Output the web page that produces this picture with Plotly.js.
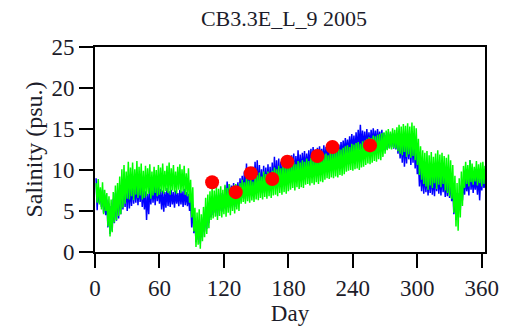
<!DOCTYPE html>
<html>
<head>
<meta charset="utf-8">
<script src="https://cdn.plot.ly/plotly-3.0.1.min.js"></script>
<style>html,body{margin:0;padding:0;background:#fff;}#chart{width:510px;height:330px;}</style>
</head>
<body>
<div id="chart"></div>
<script>
const blueSalinity = [
9.0,5.1,7.8,6.0,7.2,5.5,7.6,4.8,7.0,4.5,
6.4,3.0,5.9,2.2,5.6,2.6,6.5,3.5,7.2,3.8,
7.5,4.1,8.0,4.6,8.6,5.2,8.8,5.5,8.2,5.0,
8.4,5.3,7.9,5.6,8.5,5.9,8.1,6.0,8.6,5.7,
8.2,6.1,8.0,5.5,7.8,5.2,7.4,3.9,7.1,4.6,
7.9,5.8,8.3,6.0,8.1,5.7,8.4,6.2,8.0,5.9,
7.7,5.2,7.5,4.9,7.3,5.4,7.8,5.6,7.4,5.5,
7.6,5.8,7.3,5.4,7.5,5.9,7.2,5.6,7.6,5.8,
7.4,5.5,7.7,5.7,7.3,5.6,7.1,5.0,6.4,3.0,
5.8,2.3,4.1,1.2,3.6,1.5,3.9,1.0,3.4,1.8,
4.2,2.5,5.3,2.8,6.0,3.5,6.5,4.2,6.8,4.5,
6.6,4.8,7.0,4.4,6.9,5.0,7.2,4.9,7.0,5.3,
8.0,5.2,8.6,5.6,8.3,5.4,8.1,5.8,8.4,5.5,
8.2,6.0,8.5,6.2,9.0,6.4,9.3,6.6,9.8,6.5,
10.8,6.9,10.2,7.0,9.6,6.8,10.4,7.1,11.0,7.2,
11.2,7.3,10.6,7.5,10.1,7.2,10.5,7.6,10.3,7.4,
10.7,7.7,10.4,7.5,10.9,7.9,11.6,8.1,11.2,8.0,
11.4,8.2,11.0,8.3,11.3,8.5,11.6,8.4,11.1,8.6,
11.5,9.0,11.8,9.2,12.0,9.1,11.7,9.4,12.4,9.3,
11.9,9.6,12.1,9.8,12.3,9.7,12.0,10.0,12.4,10.1,
12.6,10.0,12.8,10.3,12.5,10.2,12.7,10.5,12.9,10.4,
12.6,10.7,13.0,10.8,12.8,10.9,13.1,11.0,12.9,11.1,
13.2,11.0,13.0,11.3,13.3,11.2,13.1,11.4,13.4,11.5,
13.6,11.8,13.9,12.0,13.7,11.9,14.1,12.1,14.4,12.2,
14.2,12.0,14.6,12.3,14.9,12.4,15.5,12.5,14.8,12.6,
14.7,12.5,15.0,12.8,14.6,12.7,14.9,12.9,15.1,13.0,
14.8,12.9,15.0,13.1,14.7,12.8,14.9,12.6,14.5,12.4,
14.3,12.5,14.6,12.7,14.4,12.8,14.5,12.6,14.2,12.5,
14.0,12.0,14.3,11.4,13.8,10.9,14.1,10.4,13.6,10.8,
14.2,11.3,13.9,10.6,14.4,10.9,13.7,10.2,12.8,9.5,
11.2,8.0,10.6,7.4,10.1,7.1,9.8,7.3,9.5,6.9,
9.2,7.2,9.6,7.0,9.3,6.8,9.7,7.4,9.9,7.1,
9.4,6.9,9.8,7.3,9.1,6.7,9.0,6.8,9.2,6.6,
8.8,6.2,8.0,4.6,7.0,3.9,6.4,4.3,7.2,5.1,
8.1,6.3,8.6,7.0,9.2,7.4,9.0,6.9,11.2,7.6,
9.4,7.2,9.1,7.6,9.3,7.0,9.6,6.3,9.0,7.5,
9.2,7.8,9.5,6.6,9.3
];
const greenSalinity = [
8.4,6.0,8.9,5.8,7.9,5.2,8.5,4.6,7.6,5.0,
7.2,3.1,6.8,1.9,6.4,2.4,7.3,3.6,8.1,3.9,
8.4,4.4,9.2,4.6,10.1,5.4,10.6,5.9,9.8,6.5,
11.0,6.4,10.3,6.8,10.9,6.3,10.1,7.0,11.1,6.6,
10.4,6.9,10.8,6.4,9.9,6.6,10.5,6.8,10.2,7.1,
10.7,6.5,9.8,6.9,10.4,7.2,10.0,6.8,10.6,7.0,
10.3,7.3,10.8,7.1,9.9,7.4,10.5,7.2,10.9,7.0,
10.2,7.5,10.6,7.3,9.8,7.1,10.4,7.6,10.7,7.2,
10.1,7.4,10.5,7.0,9.6,6.8,10.2,6.0,8.8,4.2,
7.9,2.5,5.4,0.6,4.8,0.9,5.2,0.4,4.6,1.3,
5.5,1.8,6.6,2.2,7.0,2.9,7.4,3.9,7.8,4.1,
7.5,4.3,7.9,3.9,7.7,4.4,8.0,4.2,7.6,4.6,
8.2,4.3,7.8,4.8,8.3,4.5,7.9,5.0,8.1,4.7,
8.3,5.2,7.9,5.0,8.4,5.9,8.8,6.1,8.5,5.9,
9.0,6.2,8.7,6.0,8.9,6.3,8.6,6.1,9.1,6.4,
9.4,6.3,9.7,6.6,9.2,6.4,9.8,6.7,9.5,6.5,
9.8,6.8,9.3,6.6,9.9,6.9,10.3,7.0,10.1,6.8,
10.5,7.2,10.2,7.0,10.6,7.3,10.4,7.1,10.7,7.4,
10.8,7.6,10.5,7.8,11.0,7.5,10.7,7.9,11.1,7.7,
10.9,7.9,11.2,7.8,11.0,8.2,11.4,8.3,11.1,8.1,
11.5,8.4,11.3,8.2,11.7,8.5,11.4,8.3,11.8,8.6,
11.6,8.5,11.9,8.8,12.0,9.0,11.8,8.9,12.2,9.1,
12.1,9.0,12.4,9.2,12.3,9.1,12.6,9.4,12.5,9.3,
12.7,9.5,12.9,9.8,13.0,9.9,12.8,10.0,13.2,9.9,
13.1,10.1,13.3,10.2,13.4,10.0,13.2,10.3,13.5,10.4,
13.6,10.6,13.8,10.8,14.0,10.7,13.9,10.9,14.2,11.1,
14.1,11.0,14.3,11.3,14.4,11.2,14.5,11.6,14.6,12.0,
14.8,12.4,15.0,12.6,14.7,12.5,15.1,12.7,14.9,12.6,
15.2,12.3,15.5,12.0,15.3,11.8,15.6,12.2,15.4,11.6,
15.7,11.9,15.3,11.5,15.8,11.7,15.4,11.2,15.1,10.6,
13.8,9.4,12.9,8.8,12.4,8.3,12.1,8.0,12.3,7.6,
11.8,8.1,12.2,7.8,11.6,8.4,12.0,7.7,12.4,8.2,
11.9,7.9,12.1,8.3,11.7,7.5,11.5,7.2,11.9,6.8,
11.2,6.5,10.6,4.8,9.3,3.1,8.4,2.6,9.0,4.2,
9.8,5.6,10.5,7.8,11.0,8.3,10.6,8.0,11.2,8.5,
10.8,8.2,10.4,8.6,11.1,8.1,10.7,8.4,10.9,8.0,
11.0,8.3,10.5,8.7,10.2
];
// Discrete samples (red dots)
const sampleDays = [109, 131, 145, 165, 179, 207, 221, 256];
const sampleSalinity = [8.5, 7.3, 9.6, 8.9, 11.0, 11.7, 12.8, 13.0];
const xTicks = [0, 60, 120, 180, 240, 300, 360];
const yTicks = [0, 5, 10, 15, 20, 25];

const blueDays = blueSalinity.map((_, i) => i + 1);
const greenDays = greenSalinity.map((_, i) => i + 1);

const serif = 'Liberation Serif, Times New Roman, serif';
const ink = '#1c1c2a';
const traces = [
  {x: blueDays, y: blueSalinity, type: 'scatter', mode: 'lines',
   line: {color: '#0000ff', width: 1.5}, hoverinfo: 'skip'},
  {x: greenDays, y: greenSalinity, type: 'scatter', mode: 'lines',
   line: {color: '#00ff00', width: 1.5}, hoverinfo: 'skip'},
  {x: sampleDays, y: sampleSalinity, type: 'scatter', mode: 'markers',
   marker: {color: '#ff0000', size: 14}, hoverinfo: 'skip'}
];
const axisCommon = {
  showline: true, linecolor: '#000', linewidth: 2, mirror: true,
  ticks: 'outside', ticklen: 14, tickwidth: 2, tickcolor: '#000',
  showgrid: false, zeroline: false,
  tickfont: {family: serif, size: 23, color: ink}
};
const layout = {
  width: 510, height: 330,
  margin: {l: 95, r: 25, t: 47, b: 78},
  paper_bgcolor: '#fff', plot_bgcolor: '#fff',
  showlegend: false,
  title: {text: 'CB3.3E_L_9 2005', font: {family: serif, size: 22, color: ink},
          x: 284/510, xref: 'container', xanchor: 'center', y: 1 - 18/330, yref: 'container', yanchor: 'middle'},
  xaxis: Object.assign({}, axisCommon, {
    range: [0, 363], tickvals: xTicks, ticktext: xTicks.map(String),
    title: {text: 'Day', font: {family: serif, size: 23, color: ink}, standoff: 0}
  }),
  yaxis: Object.assign({}, axisCommon, {
    range: [0, 25], tickvals: yTicks, ticktext: yTicks.map(String),
    title: {text: 'Salinity (psu.)', font: {family: serif, size: 24, color: ink}, standoff: 2}
  })
};
Plotly.newPlot('chart', traces, layout, {staticPlot: true, displayModeBar: false});
</script>
</body>
</html>
